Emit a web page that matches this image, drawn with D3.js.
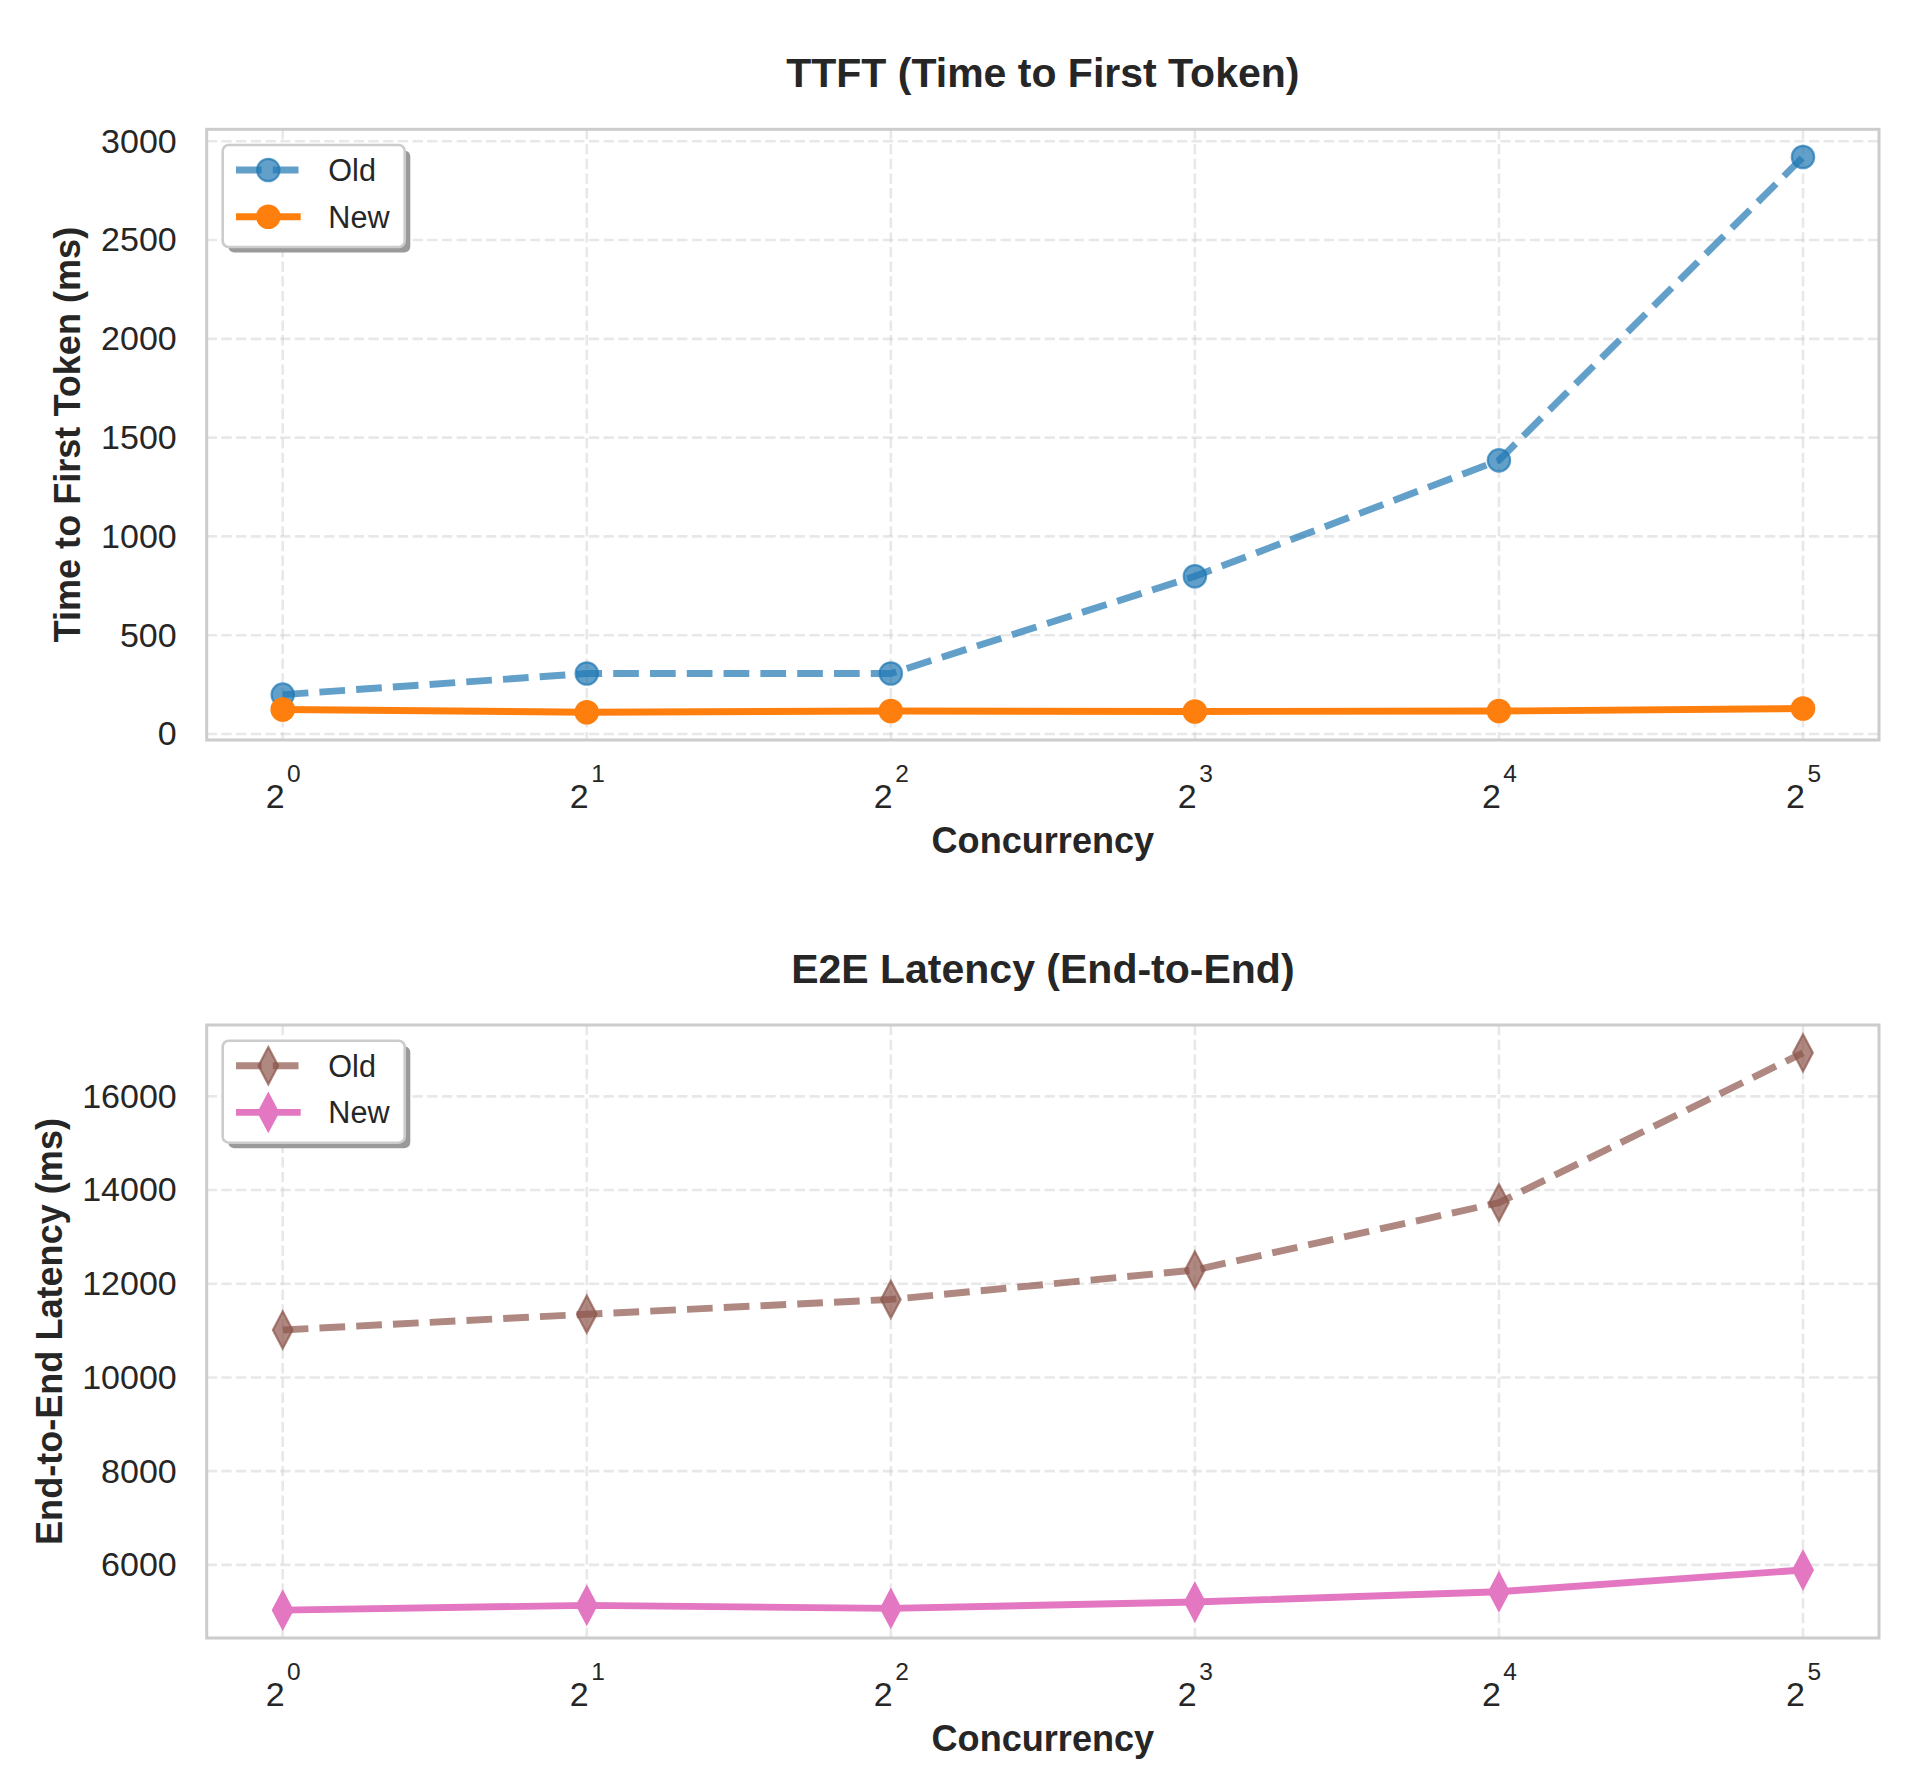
<!DOCTYPE html>
<html>
<head>
<meta charset="utf-8">
<script src="https://cdn.jsdelivr.net/npm/d3@7"></script>
<style>
  html, body { margin: 0; padding: 0; background: #ffffff; }
  svg { display: block; }
  text { font-family: "Liberation Sans", Arial, Helvetica, sans-serif; fill: #262626; }
</style>
</head>
<body>
<svg id="chart" width="1920" height="1788"></svg>
<script>
// ---------------- DATA ----------------
const concurrency = [1, 2, 4, 8, 16, 32];
const xTickExponents = ["0", "1", "2", "3", "4", "5"];

const ttftOld = [199, 306, 306, 798, 1385, 2920];
const ttftNew = [124, 110, 116, 114, 116, 129];
const ttftTicks = [0, 500, 1000, 1500, 2000, 2500, 3000];

const e2eOld = [11014, 11349, 11665, 12293, 13731, 16928];
const e2eNew = [5033, 5135, 5070, 5206, 5426, 5890];
const e2eTicks = [6000, 8000, 10000, 12000, 14000, 16000];

const seriesNames = ["Old", "New"];
const panelTitles = ["TTFT (Time to First Token)", "E2E Latency (End-to-End)"];
const yLabels = ["Time to First Token (ms)", "End-to-End Latency (ms)"];
const xLabel = "Concurrency";

// ---------------- LAYOUT ----------------
const W = 1920, H = 1788;
const left = 206.7, right = 1879;
const panels = [
  { top: 129.3, bottom: 740, title: panelTitles[0], ylabel: yLabels[0], ylabelX: 80,
    ticks: ttftTicks, marker: "circle",
    series: [
      { name: seriesNames[0], values: ttftOld, color: "#1f77b4", alpha: 0.7, dashed: true },
      { name: seriesNames[1], values: ttftNew, color: "#ff7f0e", alpha: 1.0, dashed: false }
    ] },
  { top: 1025, bottom: 1638, title: panelTitles[1], ylabel: yLabels[1], ylabelX: 61.5,
    ticks: e2eTicks, marker: "diamond",
    series: [
      { name: seriesNames[0], values: e2eOld, color: "#8c564b", alpha: 0.7, dashed: true },
      { name: seriesNames[1], values: e2eNew, color: "#e377c2", alpha: 1.0, dashed: false }
    ] }
];

const LW = 6.9;
const DASH = "25.7,11.1";
const tickFont = 34, labelFont = 36.1, titleFont = 41, legendFont = 30.6;

const svg = d3.select("#chart");
svg.append("rect").attr("width", W).attr("height", H).attr("fill", "#ffffff");

const x = d3.scaleLog().base(2)
  .domain([Math.pow(2, -0.25), Math.pow(2, 5.25)])
  .range([left, right]);

function markerPath(kind) {
  if (kind === "circle") {
    return d3.symbol().type(d3.symbolCircle).size(Math.PI * 11.2 * 11.2)();
  }
  const hw = 9.8, hh = 18.6;
  const p = d3.path();
  p.moveTo(0, -hh); p.lineTo(hw, 0); p.lineTo(0, hh); p.lineTo(-hw, 0); p.closePath();
  return p.toString();
}

panels.forEach((pn) => {
  const g = svg.append("g");
  const all = pn.series.flatMap(s => s.values);
  const mn = d3.min(all), mx = d3.max(all), r = mx - mn;
  const y = d3.scaleLinear().domain([mn - 0.05 * r, mx + 0.05 * r]).range([pn.bottom, pn.top]);

  // grid
  const grid = g.append("g");
  grid.selectAll("line.h").data(pn.ticks).join("line")
    .attr("x1", left).attr("x2", right)
    .attr("y1", d => y(d)).attr("y2", d => y(d))
    .attr("stroke", "#cccccc").attr("stroke-opacity", 0.45)
    .attr("stroke-width", 2.6).attr("stroke-dasharray", "10.3,4.4");
  grid.selectAll("line.v").data(concurrency).join("line")
    .attr("x1", d => x(d)).attr("x2", d => x(d))
    .attr("y1", pn.top).attr("y2", pn.bottom)
    .attr("stroke", "#cccccc").attr("stroke-opacity", 0.45)
    .attr("stroke-width", 2.6).attr("stroke-dasharray", "10.3,4.4");

  // y axis tick labels
  const yAxis = g.append("g").attr("transform", `translate(${left},0)`)
    .call(d3.axisLeft(y).tickValues(pn.ticks).tickSize(0).tickPadding(30).tickFormat(d3.format("d")));
  yAxis.select(".domain").remove();
  yAxis.selectAll("text").attr("font-size", tickFont).attr("fill", "#262626")
    .style("font-family", "'Liberation Sans', Arial, sans-serif");

  // x axis tick labels (2^n)
  const xAxis = g.append("g").attr("transform", `translate(0,${pn.bottom})`)
    .call(d3.axisBottom(x).tickValues(concurrency).tickSize(0).tickFormat(() => ""));
  xAxis.select(".domain").remove();
  xAxis.selectAll(".tick text").each(function (d, i) {
    const t = d3.select(this);
    t.attr("y", 67.7).attr("dy", null).attr("text-anchor", "middle")
      .attr("font-size", tickFont).attr("fill", "#262626")
      .style("font-family", "'Liberation Sans', Arial, sans-serif");
    t.text(null);
    t.append("tspan").text("2");
    t.append("tspan").attr("dx", 2.5).attr("dy", -25.4).attr("font-size", 24.5).text(xTickExponents[i]);
  });

  // frame
  g.append("rect").attr("x", left).attr("y", pn.top)
    .attr("width", right - left).attr("height", pn.bottom - pn.top)
    .attr("fill", "none").attr("stroke", "#cccccc").attr("stroke-width", 3);

  // series
  const line = d3.line().x((d, i) => x(concurrency[i])).y(d => y(d));
  const mp = markerPath(pn.marker);
  pn.series.forEach(s => {
    g.append("path").datum(s.values).attr("d", line)
      .attr("fill", "none").attr("stroke", s.color).attr("stroke-opacity", s.alpha)
      .attr("stroke-width", LW).attr("stroke-linejoin", "round")
      .attr("stroke-dasharray", s.dashed ? DASH : null);
    g.selectAll(null).data(s.values).join("path")
      .attr("d", mp)
      .attr("transform", (d, i) => `translate(${x(concurrency[i])},${y(d)})`)
      .attr("fill", s.color).attr("fill-opacity", s.alpha)
      .attr("stroke", s.color).attr("stroke-opacity", s.alpha).attr("stroke-width", 2.2);
  });

  // title
  g.append("text").attr("x", (left + right) / 2).attr("y", pn.top - 42)
    .attr("text-anchor", "middle").attr("font-size", titleFont).attr("font-weight", "bold")
    .text(pn.title);
  // x label
  g.append("text").attr("x", (left + right) / 2).attr("y", pn.bottom + 112.7)
    .attr("text-anchor", "middle").attr("font-size", labelFont).attr("font-weight", "bold")
    .text(xLabel);
  // y label
  g.append("text")
    .attr("transform", `translate(${pn.ylabelX},${(pn.top + pn.bottom) / 2}) rotate(-90)`)
    .attr("text-anchor", "middle").attr("font-size", labelFont).attr("font-weight", "bold")
    .text(pn.ylabel);

  // legend
  const lg = g.append("g").attr("transform", `translate(${left + 16},${pn.top + 15.7})`);
  const lw = 182, lh = 102;
  lg.append("rect").attr("x", 5.6).attr("y", 5.6).attr("width", lw).attr("height", lh)
    .attr("rx", 6).attr("fill", "#9a9a9a");
  lg.append("rect").attr("x", 0).attr("y", 0).attr("width", lw).attr("height", lh)
    .attr("rx", 6).attr("fill", "#ffffff").attr("stroke", "#cccccc").attr("stroke-width", 2.6);
  pn.series.forEach((s, k) => {
    const cy = 25 + k * 46.7;
    lg.append("line").attr("x1", 13.3).attr("x2", 78).attr("y1", cy).attr("y2", cy)
      .attr("stroke", s.color).attr("stroke-opacity", s.alpha).attr("stroke-width", LW)
      .attr("stroke-dasharray", s.dashed ? DASH : null);
    lg.append("path").attr("d", mp).attr("transform", `translate(45.6,${cy})`)
      .attr("fill", s.color).attr("fill-opacity", s.alpha)
      .attr("stroke", s.color).attr("stroke-opacity", s.alpha).attr("stroke-width", 2.2);
    lg.append("text").attr("x", 105.6).attr("y", cy + 11).attr("font-size", legendFont)
      .text(s.name);
  });
});
</script>
</body>
</html>
